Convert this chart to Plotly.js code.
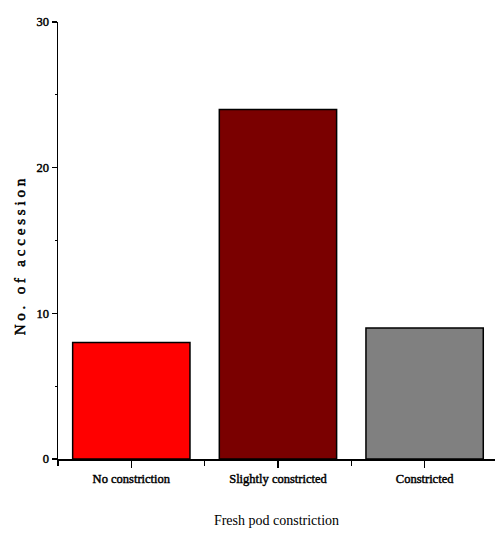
<!DOCTYPE html>
<html>
<head>
<meta charset="utf-8">
<script src="https://cdn.plot.ly/plotly-3.0.1.min.js"></script>
<style>
html,body{margin:0;padding:0;background:#fff;}
#chart{width:495px;height:537px;}
#chart .xtick text, #chart .ytick text{stroke:#000;stroke-width:0.45px;}
#chart .annotation-text{letter-spacing:3.8px;stroke:#000;stroke-width:0.5px;}
</style>
</head>
<body>
<div id="chart"></div>
<script>
var categories = ["No constriction", "Slightly constricted", "Constricted"];
var counts = [8, 24, 9];
var barColors = ["#ff0000", "#7a0000", "#808080"];
var yTicks = [0, 10, 20, 30];
var yTitle = 'No. of accession';
var xTitle = 'Fresh pod constriction';

var positions = categories.map(function(c, i){ return i; });

var trace = {
  type: 'bar',
  x: positions,
  y: counts,
  width: 0.8,
  marker: {color: barColors, line: {color: '#000', width: 1.5}},
  hoverinfo: 'none'
};

var layout = {
  width: 495, height: 537,
  margin: {l: 58, r: 0, t: 22, b: 78},
  paper_bgcolor: '#fff', plot_bgcolor: '#fff',
  showlegend: false,
  font: {family: 'Liberation Serif, Times New Roman, serif', color: '#000'},
  xaxis: {
    range: [-0.5, 2.48],
    tickvals: positions,
    ticktext: categories,
    ticks: 'outside', ticklen: 7, tickwidth: 1.2, tickcolor: '#000',
    minor: {tick0: 0.5, dtick: 1, ticks: 'outside', ticklen: 5, tickwidth: 1.2, tickcolor: '#000', showgrid: false},
    showline: true, linecolor: '#000', linewidth: 1.5,
    showgrid: false, zeroline: false,
    tickfont: {size: 12.5, family: 'Liberation Serif, serif'},
    title: {text: xTitle, font: {size: 14}, standoff: 30}
  },
  yaxis: {
    range: [0, 30],
    tickvals: yTicks,
    ticks: 'outside', ticklen: 5, tickwidth: 1.2, tickcolor: '#000',
    minor: {dtick: 5, tick0: 0, ticks: 'outside', ticklen: 2, tickwidth: 1.2, tickcolor: '#000', showgrid: false},
    showline: true, linecolor: '#000', linewidth: 1.5,
    showgrid: false, zeroline: false,
    tickfont: {size: 12.5, family: 'Liberation Serif, serif'}
  },
  annotations: [{
    text: yTitle, textangle: -90, showarrow: false,
    xref: 'paper', yref: 'paper', x: 0, y: 0.467,
    xanchor: 'center', yanchor: 'middle', xshift: -38,
    font: {size: 15, family: 'Liberation Serif, serif', color: '#000'}
  }]
};

Plotly.newPlot('chart', [trace], layout, {displayModeBar: false, staticPlot: true});
</script>
</body>
</html>
